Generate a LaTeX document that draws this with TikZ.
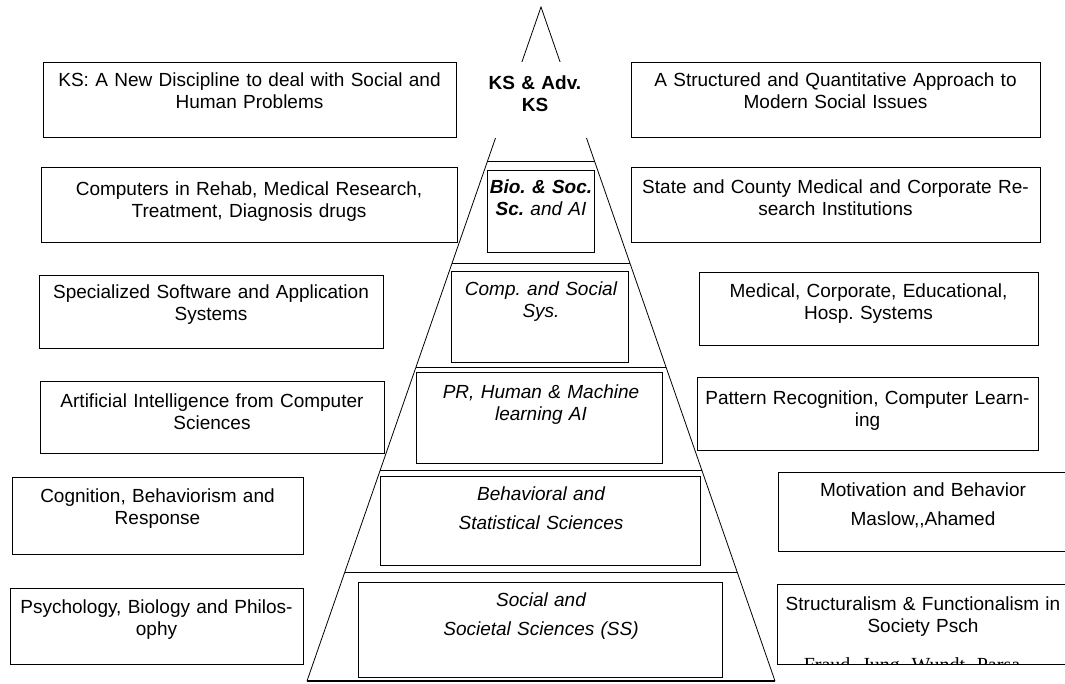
\documentclass[tikz,border=0pt]{standalone}
\usepackage{fontspec}
\setmainfont{Liberation Sans}
\newfontfamily\namesfont{Liberation Serif}
\frenchspacing

\begin{document}
\begin{tikzpicture}[x=1pt, y=-1pt,
    box/.style={draw, line width=1.2pt, anchor=north west, inner sep=0pt},
    txt/.style={anchor=base, align=center, text width=440pt, inner sep=0pt, font=\fontsize{19}{22}\selectfont},
    ptxt/.style={txt, font=\fontsize{19}{22}\selectfont\itshape}]
    \path[use as bounding box, fill=white] (0,0) rectangle (1065,684);

    %pyramid
    \coordinate (apex) at (541,7);
    \coordinate (bl) at (307,681);
    \coordinate (br) at (775,681);
    \draw[line width=0.8pt] (bl) -- (apex) -- (br);
    \draw[line width=1.2pt] (bl) -- (br);
    \node[fill=white, inner sep=0pt, minimum width=112pt, minimum height=76pt] (gap) at (540,100.5) {};
    \node[txt, font=\fontsize{19}{22}\selectfont\bfseries] (apextxt) at (535,90) {KS \& Adv.\\KS};

    %layers
    \draw[line width=1pt] (487,162) -- (595,162);
    \draw[line width=1pt] (452,264) -- (630,264);
    \draw[line width=1pt] (416,367) -- (666,367);
    \draw[line width=1pt] (380,470) -- (702,470);
    \draw[line width=1pt] (345,572) -- (737,572);

    \node[box, minimum width=107pt, minimum height=82pt] (bioaibox) at (487,170) {};
    \node[ptxt] (bioai) at (541,194) {\textbf{Bio. \& Soc.}\\\textbf{Sc.} and AI};
    \node[box, minimum width=177pt, minimum height=91pt] (compsysbox) at (451,271) {};
    \node[ptxt] (compsys) at (541,296) {Comp. and Social\\Sys.};
    \node[box, minimum width=246pt, minimum height=91pt] (prmlbox) at (416,372) {};
    \node[ptxt] (prml) at (541,398) {PR, Human \& Machine\\learning AI};
    \node[box, minimum width=320pt, minimum height=89pt] (behavbox) at (380,476) {};
    \node[ptxt] (behav) at (541,500) {Behavioral and\\[7pt]Statistical Sciences};
    \node[box, minimum width=364pt, minimum height=95pt] (socialbox) at (358,582) {};
    \node[ptxt] (social) at (541,606) {Social and\\[7pt]Societal Sciences (SS)};

    %left
    \node[box, minimum width=413pt, minimum height=75pt] (ksnewbox) at (43,62) {};
    \node[txt] (ksnew) at (249.5,87) {KS: A New Discipline to deal with Social and\\Human Problems};
    \node[box, minimum width=416pt, minimum height=75pt] (rehabbox) at (41,167) {};
    \node[txt] (rehab) at (249,196) {Computers in Rehab, Medical Research,\\Treatment, Diagnosis drugs};
    \node[box, minimum width=344pt, minimum height=73pt] (softwarebox) at (39,275) {};
    \node[txt] (software) at (211,299) {Specialized Software and Application\\Systems};
    \node[box, minimum width=344pt, minimum height=72pt] (aioriginbox) at (40,381) {};
    \node[txt] (aiorigin) at (212,407) {Artificial Intelligence from Computer\\Sciences};
    \node[box, minimum width=291pt, minimum height=77pt] (cognitionbox) at (12,477) {};
    \node[txt] (cognition) at (157.5,502) {Cognition, Behaviorism and\\Response};
    \node[box, minimum width=293pt, minimum height=76pt] (psychologybox) at (10,588) {};
    \node[txt] (psychology) at (156.5,613) {Psychology, Biology and Philos-\\ophy};

    %right
    \node[box, minimum width=409pt, minimum height=75pt] (approachbox) at (631,62) {};
    \node[txt] (approach) at (835.5,87) {A Structured and Quantitative Approach to\\Modern Social Issues};
    \node[box, minimum width=409pt, minimum height=75pt] (institutesbox) at (631,167) {};
    \node[txt] (institutes) at (835.5,194) {State and County Medical and Corporate Re-\\search Institutions};
    \node[box, minimum width=339pt, minimum height=73pt] (hospsysbox) at (699,272) {};
    \node[txt] (hospsys) at (868.5,298) {Medical, Corporate, Educational,\\Hosp. Systems};
    \node[box, minimum width=341pt, minimum height=73pt] (patternbox) at (697,377) {};
    \node[txt] (pattern) at (867.5,404) {Pattern Recognition, Computer Learn-\\ing};
    \node[box, minimum width=290pt, minimum height=79pt] (motivationbox) at (778,472) {};
    \node[txt] (motivation) at (923,496) {Motivation and Behavior\\[7pt]Maslow,\kern0pt,Ahamed};
    \node[box, minimum width=292pt, minimum height=80pt] (structuralbox) at (777,584) {};
    \node[txt] (structural) at (923,610) {Structuralism \& Functionalism in\\Society Psch};
    \begin{scope}
    \clip (777,630) rectangle (1065,663.5);
    \node[txt, font=\namesfont\fontsize{20}{22}\selectfont] (names) at (912,671) {Fraud, Jung, Wundt, Parsa};
    \end{scope}
\end{tikzpicture}
\end{document}
